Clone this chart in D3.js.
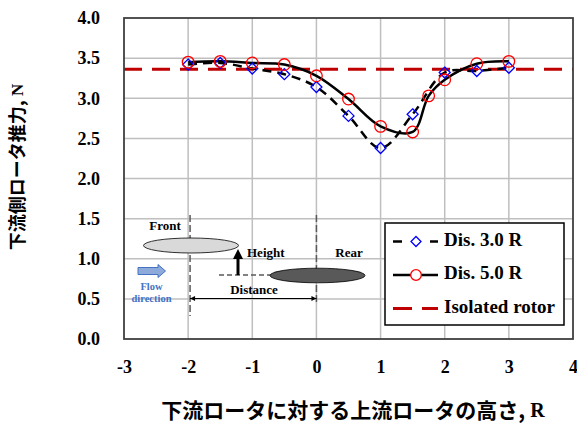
<!DOCTYPE html>
<html>
<head>
<meta charset="utf-8">
<script src="https://cdn.jsdelivr.net/npm/d3@7"></script>
<style>
  html, body { margin: 0; padding: 0; background: #fff; }
  svg { display: block; }
  .serif { font-family: "Liberation Serif", "Times New Roman", serif; font-weight: bold; }
  .cjk { font-family: "Noto Sans CJK JP", "Noto Sans", sans-serif; font-weight: bold; }
</style>
</head>
<body>
<svg id="chart" width="577" height="424"></svg>
<script>
// Relative height of the upstream rotor (in R) and downstream rotor thrust (N)
const heightsDis3 = [-2, -1.5, -1, -0.5, 0, 0.5, 1, 1.5, 2, 2.5, 3];
const thrustDis3  = [3.42, 3.44, 3.37, 3.30, 3.14, 2.78, 2.38, 2.80, 3.32, 3.34, 3.38];

const heightsDis5 = [-2, -1.5, -1, -0.5, 0, 0.5, 1, 1.5, 1.75, 2, 2.5, 3];
const thrustDis5  = [3.45, 3.46, 3.44, 3.42, 3.28, 2.99, 2.65, 2.58, 3.03, 3.23, 3.43, 3.46];

const isolatedThrust = 3.36;

const xTicks = [-3, -2, -1, 0, 1, 2, 3, 4];
const yTicks = [0, 0.5, 1, 1.5, 2, 2.5, 3, 3.5, 4];

const legendLabels = ["Dis. 3.0 R", "Dis. 5.0 R", "Isolated rotor"];

const svg = d3.select("#chart");

const x = d3.scaleLinear().domain([-3, 4]).range([124, 573]);
const y = d3.scaleLinear().domain([0, 4]).range([339, 18]);

// grid
const grid = svg.append("g");
grid.selectAll("line.v").data(xTicks.slice(1, -1)).join("line")
  .attr("x1", d => x(d)).attr("x2", d => x(d))
  .attr("y1", y(4)).attr("y2", y(0))
  .attr("stroke", "#bfbfbf").attr("stroke-width", 1.5);
grid.selectAll("line.h").data(yTicks.slice(1, -1)).join("line")
  .attr("x1", x(-3)).attr("x2", x(4))
  .attr("y1", d => y(d)).attr("y2", d => y(d))
  .attr("stroke", "#bfbfbf").attr("stroke-width", 1.5);

// tick labels
const yAxis = svg.append("g").attr("transform", `translate(${x(-3)},0)`)
  .call(d3.axisLeft(y).tickValues(yTicks).tickSize(0).tickPadding(24).tickFormat(d => d.toFixed(1)));
const xAxis = svg.append("g").attr("transform", `translate(0,${y(0)})`)
  .call(d3.axisBottom(x).tickValues(xTicks).tickSize(0).tickPadding(21).tickFormat(d => String(d)));
[yAxis, xAxis].forEach(a => {
  a.select(".domain").remove();
  a.selectAll("text").attr("class", "serif").style("font-size", "18px").attr("fill", "#000");
});

// inset diagram: front / rear rotor arrangement
const inset = svg.append("g");
inset.append("text").attr("class", "serif").attr("x", 165).attr("y", 227)
  .attr("text-anchor", "middle").attr("dominant-baseline", "middle")
  .style("font-size", "13px").text("Front");
inset.append("text").attr("class", "serif").attr("x", 349).attr("y", 254)
  .attr("text-anchor", "middle").attr("dominant-baseline", "middle")
  .style("font-size", "13px").text("Rear");
inset.append("text").attr("class", "serif").attr("x", 247).attr("y", 254)
  .attr("dominant-baseline", "middle")
  .style("font-size", "13px").text("Height");
inset.append("text").attr("class", "serif").attr("x", 254).attr("y", 291.5)
  .attr("text-anchor", "middle").attr("dominant-baseline", "middle")
  .style("font-size", "13px").text("Distance");

// rotor position guides
[x(-1.97), x(0)].forEach((gx, i) => {
  inset.append("line").attr("x1", gx).attr("x2", gx)
    .attr("y1", 215).attr("y2", i === 0 ? 316 : 302)
    .attr("stroke", "#595959").attr("stroke-width", 1.5).attr("stroke-dasharray", "7,3");
});
inset.append("line").attr("x1", 219).attr("x2", 272).attr("y1", 275).attr("y2", 275)
  .attr("stroke", "#595959").attr("stroke-width", 1.5).attr("stroke-dasharray", "5,3");

inset.append("ellipse").attr("cx", 191).attr("cy", 245.5).attr("rx", 47.5).attr("ry", 7.5)
  .attr("fill", "#d9d9d9").attr("stroke", "#000").attr("stroke-width", 0.8);
inset.append("ellipse").attr("cx", 317.5).attr("cy", 275.5).attr("rx", 47.5).attr("ry", 7.3)
  .attr("fill", "#595959").attr("stroke", "#000").attr("stroke-width", 0.8);

// height arrow
inset.append("line").attr("x1", 238).attr("x2", 238).attr("y1", 275).attr("y2", 258)
  .attr("stroke", "#000").attr("stroke-width", 3);
inset.append("path").attr("d", "M238,249 L243,259 L233,259 Z").attr("fill", "#000");

// distance arrow
inset.append("line").attr("x1", x(-1.97)).attr("x2", x(0)).attr("y1", 298.5).attr("y2", 298.5)
  .attr("stroke", "#000").attr("stroke-width", 1);
inset.append("path")
  .attr("d", `M${x(-1.97)},298.5 l5,-2.5 l0,5 Z M${x(0)},298.5 l-5,-2.5 l0,5 Z`)
  .attr("fill", "#000");

// flow direction arrow
inset.append("path")
  .attr("d", "M138,267.5 L158,267.5 L158,264.5 L165.5,271 L158,277.5 L158,274.5 L138,274.5 Z")
  .attr("fill", "#8eaadb").attr("stroke", "#4472c4").attr("stroke-width", 1);
inset.append("text").attr("class", "serif").attr("x", 151.5).attr("y", 287.5)
  .attr("text-anchor", "middle").attr("dominant-baseline", "middle")
  .attr("fill", "#4472c4").style("font-size", "10.5px").text("Flow");
inset.append("text").attr("class", "serif").attr("x", 151.5).attr("y", 300)
  .attr("text-anchor", "middle").attr("dominant-baseline", "middle")
  .attr("fill", "#4472c4").style("font-size", "10.5px").text("direction");

// isolated rotor reference
svg.append("line").attr("x1", x(-3)).attr("x2", x(4))
  .attr("y1", y(isolatedThrust)).attr("y2", y(isolatedThrust))
  .attr("stroke", "#c00000").attr("stroke-width", 3).attr("stroke-dasharray", "18,10");

// series lines
const line = d3.line().x(d => x(d[0])).y(d => y(d[1])).curve(d3.curveCatmullRom.alpha(0.5));
const dis3 = d3.zip(heightsDis3, thrustDis3);
const dis5 = d3.zip(heightsDis5, thrustDis5);

svg.append("path").datum(dis3).attr("d", line)
  .attr("fill", "none").attr("stroke", "#000").attr("stroke-width", 2.5)
  .attr("stroke-dasharray", "9,6");
svg.append("path").datum(dis5).attr("d", line)
  .attr("fill", "none").attr("stroke", "#000").attr("stroke-width", 2.5);

// markers
const diamond = s => `M0,${-s} L${s},0 L0,${s} L${-s},0 Z`;
svg.append("g").selectAll("path").data(dis3).join("path")
  .attr("transform", d => `translate(${x(d[0])},${y(d[1])})`)
  .attr("d", diamond(5.5))
  .attr("fill", "none").attr("stroke", "#0000ff").attr("stroke-width", 1.3);
svg.append("g").selectAll("circle").data(dis5).join("circle")
  .attr("cx", d => x(d[0])).attr("cy", d => y(d[1])).attr("r", 5.8)
  .attr("fill", "none").attr("stroke", "#ff0000").attr("stroke-width", 1.3);

// frame
svg.append("rect").attr("x", x(-3)).attr("y", y(4))
  .attr("width", x(4) - x(-3)).attr("height", y(0) - y(4))
  .attr("fill", "none").attr("stroke", "#404040").attr("stroke-width", 1.8);

// legend
const lg = svg.append("g");
lg.append("rect").attr("x", 385).attr("y", 223).attr("width", 179).attr("height", 102)
  .attr("fill", "#fff").attr("stroke", "#000").attr("stroke-width", 1.5);
const rowY = [241.5, 275, 308.5];
const sx0 = 393, sx1 = 438, sxm = 416;
// Dis 3.0 sample
lg.append("line").attr("x1", sx0).attr("x2", 402).attr("y1", rowY[0]).attr("y2", rowY[0])
  .attr("stroke", "#000").attr("stroke-width", 2.5);
lg.append("line").attr("x1", 430).attr("x2", sx1).attr("y1", rowY[0]).attr("y2", rowY[0])
  .attr("stroke", "#000").attr("stroke-width", 2.5);
lg.append("path").attr("transform", `translate(${sxm},${rowY[0]})`).attr("d", diamond(5))
  .attr("fill", "none").attr("stroke", "#0000ff").attr("stroke-width", 1.3);
// Dis 5.0 sample
lg.append("line").attr("x1", sx0).attr("x2", sx1).attr("y1", rowY[1]).attr("y2", rowY[1])
  .attr("stroke", "#000").attr("stroke-width", 2.5);
lg.append("circle").attr("cx", sxm).attr("cy", rowY[1]).attr("r", 5.3)
  .attr("fill", "#fff").attr("stroke", "#ff0000").attr("stroke-width", 1.3);
// Isolated sample
lg.append("line").attr("x1", sx0).attr("x2", sx1).attr("y1", rowY[2]).attr("y2", rowY[2])
  .attr("stroke", "#c00000").attr("stroke-width", 3).attr("stroke-dasharray", "19,10");
lg.selectAll("text").data(legendLabels).join("text")
  .attr("class", "serif").attr("x", 444).attr("y", (d, i) => rowY[i])
  .attr("dominant-baseline", "middle").style("font-size", "19px").text(d => d);

// axis titles
svg.append("text").attr("x", 353).attr("y", 412)
  .attr("text-anchor", "middle").attr("dominant-baseline", "middle")
  .call(t => {
    t.append("tspan").attr("class", "cjk").style("font-size", "21px").text("下流ロータに対する上流ロータの高さ,");
    t.append("tspan").attr("class", "serif").style("font-size", "20px").text(" R");
  });
svg.append("text").attr("transform", "translate(19,167) rotate(-90)")
  .attr("text-anchor", "middle").attr("dominant-baseline", "middle")
  .call(t => {
    t.append("tspan").attr("class", "cjk").style("font-size", "18px").text("下流側ロータ推力,");
    t.append("tspan").attr("class", "serif").style("font-size", "17px").text(" N");
  });
</script>
</body>
</html>
